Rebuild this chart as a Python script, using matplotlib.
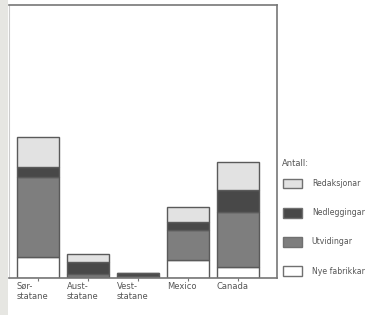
import matplotlib
matplotlib.use("Agg")
import matplotlib.pyplot as plt
from matplotlib.patches import Rectangle, Patch
import numpy as np

categories = ["Sør-\nstatane", "Aust-\nstatane", "Vest-\nstatane", "Mexico", "Canada"]
nye_fabrikkar = [21, 1, 0, 18, 11]
utvidingar = [80, 3, 2, 30, 55]
nedleggingar = [10, 12, 3, 8, 22]
redaksjonar = [30, 8, 0, 15, 28]

series = [("Nye fabrikkar", nye_fabrikkar, "#ffffff"),
          ("Utvidingar", utvidingar, "#7e7e7e"),
          ("Nedleggingar", nedleggingar, "#484848"),
          ("Redaksjonar", redaksjonar, "#e2e2e2")]

W, H = 391, 315
fig = plt.figure(figsize=(W/100, H/100), dpi=100)
fig.patch.set_facecolor("white")
fig.add_artist(Rectangle((0, 0), 8/W, 1, transform=fig.transFigure,
                         facecolor="#e6e6e2", edgecolor="none"))

ax = fig.add_axes([9/W, (H-278)/H, 268/W, 273/H])
x = np.arange(len(categories))
bottom = np.zeros(len(categories))
handles = []
for name, vals, col in series:
    v = np.array(vals, dtype=float)
    ax.bar(x, v, bottom=bottom, width=0.84, color=col,
           edgecolor="#5a5a5a", linewidth=1.0, zorder=2)
    bottom += v
    handles.append(Patch(facecolor=col, edgecolor="#707070", linewidth=1.0, label=name))

ax.set_xlim(-0.58, 4.78)
ax.set_ylim(0, 273)
ax.set_yticks([])
ax.set_xticks(x)
ax.set_xticklabels([])
ax.tick_params(axis="x", length=2, width=0.8, color="#777777", direction="out")
for i, lab in enumerate(categories):
    ax.text(i - 0.42, -4, lab, ha="left", va="top", fontsize=6,
            color="#555555", linespacing=1.1,
            transform=ax.transData, clip_on=False)

for s in ["top", "right", "bottom"]:
    ax.spines[s].set_color("#777777")
    ax.spines[s].set_linewidth(1.2)
ax.spines["left"].set_color("#cccccc")
ax.spines["left"].set_linewidth(0.8)

fig.text(282/W, 1 - 163/H, "Antall:", ha="left", va="center",
         fontsize=6, color="#555555")
leg = fig.legend(handles=handles[::-1], loc="upper left",
                 bbox_to_anchor=(283/W, 1 - 179/H), frameon=False,
                 fontsize=5.6,
                 handlelength=2.4, handleheight=1.5, labelspacing=2.52,
                 handletextpad=1.3, borderpad=0, borderaxespad=0)
for t in leg.get_texts():
    t.set_color("#555555")

fig.savefig("out.png", dpi=100)
